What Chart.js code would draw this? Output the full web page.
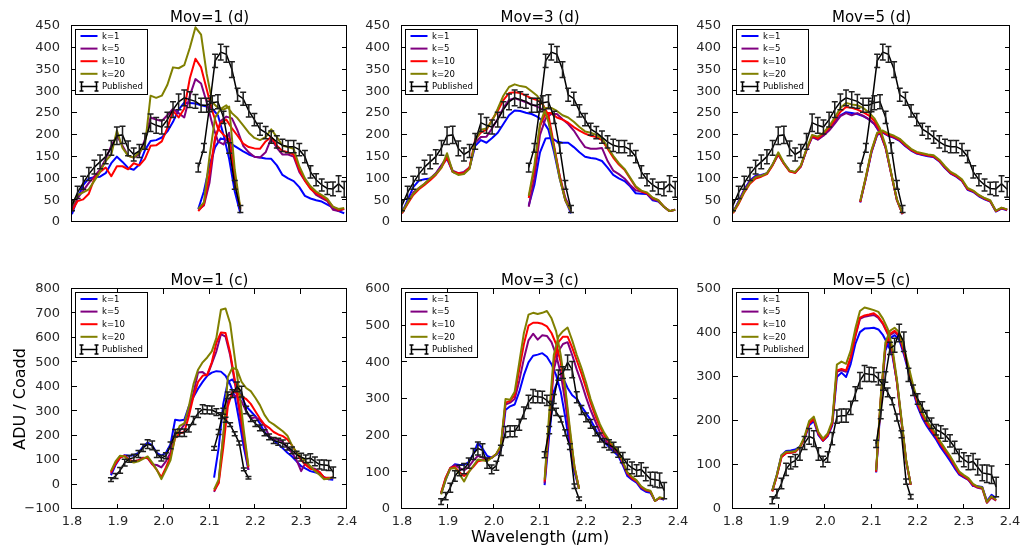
<!DOCTYPE html>
<html>
<head>
<meta charset="utf-8">
<script src="https://cdn.jsdelivr.net/npm/chart.js@4.4.1/dist/chart.umd.min.js"></script>
<style>
  html, body { margin: 0; padding: 0; background: #fff; }
  #wrap { position: relative; width: 1031px; height: 552px; overflow: hidden; background: #fff; }
  #wrap canvas { position: absolute; left: 0; top: 0; }
</style>
</head>
<body>
<div id="wrap"></div>
<script>
// Wavelength grids (µm) of the two spectral segments
const wlA = [1.885,1.895,1.905,1.915,1.925,1.935,1.945,1.955,1.965,1.975,1.985,1.995,2.005,2.015,2.025,2.035,2.045,2.055,2.065,2.075,2.085,2.095,2.105,2.115,2.125,2.135,2.145,2.155,2.165,2.175,2.185];
const wlB = [2.11,2.12,2.13,2.14,2.15,2.16,2.17,2.18,2.19,2.20,2.21,2.22,2.23,2.24,2.25,2.26,2.27,2.28,2.29,2.30,2.31,2.32,2.33,2.34,2.35,2.36,2.37];

const seriesLabels = ['k=1', 'k=5', 'k=10', 'k=20'];
const publishedLabel = 'Published';

// Published spectrum (d) with uncertainties
const pubD_A     = [38,68,90,110,126,138,150,170,198,200,169,155,163,185,228,222,218,235,258,276,285,281,277,268,268,274,276,240,170,85,30];
const pubD_A_err = [12,14,15,15,16,16,16,17,20,20,17,15,15,18,20,18,16,17,18,18,18,18,16,16,16,16,16,14,12,10,8];
const pubD_B     = [125,170,265,370,390,385,350,292,283,255,235,213,205,195,184,176,173,173,166,150,115,97,85,77,76,88,75];
const pubD_B_err = [10,10,12,15,18,18,18,15,15,14,14,14,14,14,14,14,14,14,14,14,14,14,14,14,16,18,18];

// Published spectrum (c) with uncertainties
const pubC_A     = [20,35,58,90,105,110,125,150,165,160,125,108,118,160,210,212,212,230,262,292,308,306,305,296,282,265,245,208,170,62,28];
const pubC_A_err = [8,10,12,14,14,14,14,15,18,18,14,12,12,14,15,15,15,15,16,18,18,16,16,14,12,10,8,8,8,6,5];
const pubC_B     = [148,215,300,365,372,400,380,305,270,250,232,212,195,180,175,168,155,140,122,112,105,108,95,82,80,78,50];
const pubC_B_err = [8,10,12,14,16,20,22,15,12,12,12,12,12,12,14,14,14,14,14,16,16,18,18,18,20,20,22];

// Mov=1 (d)
const d1_k1_A  = [18,55,85,100,103,104,112,135,150,138,124,120,132,165,186,188,194,208,230,258,274,273,272,268,265,260,245,200,145,70,20];
const d1_k1_B  = [30,70,130,172,192,188,178,170,162,155,150,148,146,145,130,108,100,94,80,60,54,50,47,40,33,25,20];
const d1_k5_A  = [30,55,72,90,105,120,145,175,198,175,152,148,155,190,240,235,232,245,260,250,240,290,328,318,275,225,185,178,205,100,28];
const d1_k5_B  = [28,38,90,190,232,242,238,210,175,160,150,148,160,192,170,155,155,150,115,95,78,62,55,48,28,25,30];
const d1_k10_A = [25,48,52,65,100,115,125,105,128,128,121,135,130,145,175,176,185,216,255,240,260,330,375,355,305,255,215,200,190,100,30];
const d1_k10_B = [25,40,110,195,228,235,215,198,180,172,169,168,185,195,175,163,160,155,120,95,76,66,59,50,35,28,30];
const d1_k20_A = [38,62,68,75,95,115,140,155,210,170,152,148,160,175,290,285,290,315,355,353,360,400,447,430,340,275,262,258,265,120,32];
const d1_k20_B = [30,45,150,240,260,268,250,238,222,205,193,188,195,213,195,175,172,168,128,100,82,70,62,53,35,30,32];

// Mov=3 (d)
const d3_k1_A  = [22,50,80,95,98,100,110,130,145,115,110,112,125,175,188,182,193,205,225,245,256,255,251,248,242,232,212,160,100,50,20];
const d3_k1_B  = [38,85,160,192,193,185,182,182,172,160,150,147,145,140,125,108,100,94,82,66,65,64,50,47,35,25,28];
const d3_k5_A  = [20,45,68,78,88,100,112,130,150,118,112,115,125,182,195,196,215,237,262,280,284,280,275,270,265,258,235,170,105,55,28];
const d3_k5_B  = [35,100,200,238,248,248,236,225,210,190,172,168,168,170,140,118,110,100,85,73,70,65,52,48,35,25,28];
const d3_k10_A = [20,42,62,75,85,96,108,125,148,115,112,112,125,190,205,212,235,255,280,296,298,296,290,284,280,270,245,175,105,50,25];
const d3_k10_B = [55,120,220,250,250,240,235,228,218,210,203,198,195,188,168,148,132,120,100,80,70,66,55,50,35,25,28];
const d3_k20_A = [22,45,65,78,88,100,110,125,158,115,108,110,122,185,212,215,232,260,290,310,316,312,310,300,290,270,230,170,100,50,25];
const d3_k20_B = [60,130,225,262,262,255,245,240,230,218,208,205,200,192,172,152,135,122,102,82,72,68,56,50,35,25,28];

// Mov=5 (d)
const d5_k1_A  = [22,48,75,95,106,108,112,132,155,135,118,114,128,165,196,190,200,212,228,245,252,250,248,243,236,225,205,170,110,50,18];
const d5_k1_B  = [45,100,160,200,205,198,193,186,174,164,157,154,151,149,139,124,111,104,94,74,69,59,52,47,24,31,27];
const d5_k5_A  = [22,46,73,93,104,107,111,131,155,134,117,113,127,165,195,189,198,210,226,243,250,245,250,244,236,225,205,170,110,50,18];
const d5_k5_B  = [46,101,161,201,206,198,194,187,175,165,158,155,152,150,140,125,112,105,95,75,70,60,53,48,25,32,28];
const d5_k10_A = [20,42,68,88,100,104,110,130,156,134,116,113,128,166,198,192,203,216,234,253,264,262,258,252,245,232,210,172,110,50,18];
const d5_k10_B = [46,102,163,203,208,200,196,189,177,166,159,156,153,151,141,126,113,106,96,76,71,61,54,48,25,32,28];
const d5_k20_A = [22,44,70,90,103,106,112,132,160,136,118,115,130,168,200,196,205,220,240,262,273,270,268,262,252,238,215,175,112,52,20];
const d5_k20_B = [48,104,165,205,210,203,198,191,179,168,161,158,155,153,143,128,115,108,98,78,72,62,55,50,26,33,29];

// Mov=1 (c)
const c1_k1_A  = [38,80,110,120,118,120,130,155,172,160,130,118,130,165,265,262,265,320,358,392,420,445,458,464,462,445,410,360,260,150,60];
const c1_k1_B  = [28,150,330,420,430,400,360,320,300,280,250,215,195,180,165,148,130,115,95,75,65,55,50,45,30,22,20];
const c1_k5_A  = [45,90,115,118,100,95,100,110,108,82,80,70,95,130,210,220,245,300,375,458,460,445,495,545,615,605,530,420,300,180,60];
const c1_k5_B  = [-30,10,200,340,365,360,340,300,270,275,265,240,200,185,185,175,150,130,100,55,90,68,65,50,28,22,30];
const c1_k10_A = [50,85,110,118,100,95,98,108,110,85,60,30,70,115,190,210,215,280,360,420,445,450,500,580,622,620,540,430,320,200,70];
const c1_k10_B = [-25,5,150,320,380,375,360,350,330,300,270,245,232,215,205,198,185,160,130,100,80,65,60,52,28,28,28];
const c1_k20_A = [55,95,118,115,95,90,95,105,115,90,60,22,60,100,195,240,250,320,410,470,500,520,545,600,715,720,660,520,380,220,75];
const c1_k20_B = [-20,20,200,440,478,470,420,395,382,355,325,285,258,246,232,218,200,160,132,112,95,75,55,40,22,25,30];

// Mov=3 (c)
const c3_k1_A  = [42,80,110,122,120,120,128,150,180,165,145,140,148,160,270,280,285,320,365,400,418,421,425,415,395,365,320,250,170,100,55];
const c3_k1_B  = [65,200,320,355,358,330,310,300,280,262,243,220,195,182,170,157,145,120,90,80,72,55,47,44,22,30,25];
const c3_k5_A  = [42,85,112,120,112,105,115,132,145,140,138,140,150,170,285,290,300,350,410,460,478,462,474,472,455,420,370,290,190,110,55];
const c3_k5_B  = [70,230,380,430,450,455,420,380,345,305,270,240,210,190,175,162,150,125,95,82,75,58,50,48,22,30,28];
const c3_k10_A = [45,85,112,115,100,90,102,115,130,133,135,140,150,170,290,295,310,380,450,500,508,508,505,498,480,450,400,320,210,115,55];
const c3_k10_B = [75,240,400,455,470,470,440,405,370,330,290,255,225,200,182,168,155,128,98,85,76,60,52,48,22,30,28];
const c3_k20_A = [40,80,110,112,95,75,100,118,135,133,130,140,150,175,300,298,320,400,480,530,535,532,535,540,520,485,420,330,220,115,55];
const c3_k20_B = [80,260,420,470,485,495,460,420,385,345,300,265,232,207,188,172,160,130,100,88,78,62,53,50,22,32,28];

// Mov=5 (c)
const c5_k1_A  = [42,78,122,132,133,135,142,160,190,200,168,155,165,190,300,310,300,330,375,402,410,411,412,408,395,375,350,290,200,110,55];
const c5_k1_B  = [83,240,360,388,395,385,352,312,268,232,207,188,173,158,140,125,110,93,78,72,66,52,52,50,18,32,25];
const c5_k5_A  = [40,75,118,127,128,130,140,162,194,203,170,155,167,194,312,315,312,342,392,432,437,439,441,434,420,398,358,288,198,108,55];
const c5_k5_B  = [84,248,368,395,402,392,357,317,272,237,212,192,177,162,145,129,115,97,80,73,66,53,48,46,14,26,19];
const c5_k10_A = [40,75,118,127,128,130,140,162,195,205,172,156,168,195,315,318,315,345,395,435,440,442,445,437,422,400,360,290,200,110,55];
const c5_k10_B = [85,250,370,398,405,395,360,320,275,240,215,195,180,165,148,132,118,100,82,75,68,55,50,48,15,28,20];
const c5_k20_A = [42,78,122,130,130,132,142,165,200,210,175,160,172,200,328,335,330,360,410,450,458,455,452,448,432,410,368,295,205,112,56];
const c5_k20_B = [88,255,378,405,412,402,366,326,282,246,220,200,185,170,152,136,121,103,85,77,70,57,51,49,16,29,21];

// Panel definitions
const panels = [
  { title: 'Mov=1 (d)', col: 0, row: 0, yRange: [0, 450, 50],
    series: [[d1_k1_A, d1_k1_B], [d1_k5_A, d1_k5_B], [d1_k10_A, d1_k10_B], [d1_k20_A, d1_k20_B]],
    pub: [pubD_A, pubD_B], pubErr: [pubD_A_err, pubD_B_err] },
  { title: 'Mov=3 (d)', col: 1, row: 0, yRange: [0, 450, 50],
    series: [[d3_k1_A, d3_k1_B], [d3_k5_A, d3_k5_B], [d3_k10_A, d3_k10_B], [d3_k20_A, d3_k20_B]],
    pub: [pubD_A, pubD_B], pubErr: [pubD_A_err, pubD_B_err] },
  { title: 'Mov=5 (d)', col: 2, row: 0, yRange: [0, 450, 50],
    series: [[d5_k1_A, d5_k1_B], [d5_k5_A, d5_k5_B], [d5_k10_A, d5_k10_B], [d5_k20_A, d5_k20_B]],
    pub: [pubD_A, pubD_B], pubErr: [pubD_A_err, pubD_B_err] },
  { title: 'Mov=1 (c)', col: 0, row: 1, yRange: [-100, 800, 100], yLabel: 'ADU / Coadd',
    series: [[c1_k1_A, c1_k1_B], [c1_k5_A, c1_k5_B], [c1_k10_A, c1_k10_B], [c1_k20_A, c1_k20_B]],
    pub: [pubC_A, pubC_B], pubErr: [pubC_A_err, pubC_B_err] },
  { title: 'Mov=3 (c)', col: 1, row: 1, yRange: [0, 600, 100], xLabel: true,
    series: [[c3_k1_A, c3_k1_B], [c3_k5_A, c3_k5_B], [c3_k10_A, c3_k10_B], [c3_k20_A, c3_k20_B]],
    pub: [pubC_A, pubC_B], pubErr: [pubC_A_err, pubC_B_err] },
  { title: 'Mov=5 (c)', col: 2, row: 1, yRange: [0, 500, 100],
    series: [[c5_k1_A, c5_k1_B], [c5_k5_A, c5_k5_B], [c5_k10_A, c5_k10_B], [c5_k20_A, c5_k20_B]],
    pub: [pubC_A, pubC_B], pubErr: [pubC_A_err, pubC_B_err] }
];

// Styling and geometry
const W = 1031, H = 552;
const colLeft = [72, 402, 733], colRight = [347, 678, 1010];
const rowTop = [26, 289], rowBottom = [246, 509];
const Y_AXIS_W = 50, X_AXIS_H = 24;
const lineColors = ['#0000ff', '#800080', '#ff0000', '#808000'];
const FONT = '"DejaVu Sans", "Liberation Sans", sans-serif';
const TEXT = '#262626';

Chart.defaults.font.family = FONT;

function joinSegments(segA, segB) {
  const pts = segA.map((v, i) => ({ x: wlA[i], y: v }));
  pts.push({ x: 2.19, y: null });
  segB.forEach((v, i) => pts.push({ x: wlB[i], y: v }));
  return pts;
}

const decorations = {
  id: 'decorations',
  afterDatasetsDraw(chart) {
    const ctx = chart.ctx;
    const { left, right, top, bottom } = chart.chartArea;
    const ys = chart.scales.y;
    chart.data.datasets.forEach((ds, di) => {
      if (!ds.errorBars) return;
      const meta = chart.getDatasetMeta(di);
      ctx.save();
      ctx.beginPath();
      ctx.rect(left, top, right - left, bottom - top);
      ctx.clip();
      ctx.strokeStyle = '#1e1e1e';
      ctx.lineWidth = 1.5;
      const cap = 3;
      ds.data.forEach((pt, i) => {
        const e = ds.errorBars[i];
        if (pt.y == null || e == null) return;
        const x = meta.data[i].x;
        const y1 = ys.getPixelForValue(pt.y + e);
        const y2 = ys.getPixelForValue(pt.y - e);
        ctx.beginPath();
        ctx.moveTo(x, y1); ctx.lineTo(x, y2);
        ctx.moveTo(x - cap, y1); ctx.lineTo(x + cap, y1);
        ctx.moveTo(x - cap, y2); ctx.lineTo(x + cap, y2);
        ctx.stroke();
      });
      ctx.restore();
    });
  },
  afterDraw(chart, args, opts) {
    const ctx = chart.ctx;
    const { left, right, top, bottom } = chart.chartArea;
    const xs = chart.scales.x, ys = chart.scales.y;
    ctx.save();

    // frame
    ctx.strokeStyle = '#000';
    ctx.lineWidth = 1;
    ctx.strokeRect(Math.round(left) - 0.5, Math.round(top) - 0.5, Math.round(right - left), Math.round(bottom - top));

    // inward tick marks
    const tl = 5;
    ctx.beginPath();
    ys.ticks.forEach(t => {
      const py = Math.round(ys.getPixelForValue(t.value)) - 0.5;
      ctx.moveTo(left, py); ctx.lineTo(left + tl, py);
      ctx.moveTo(right, py); ctx.lineTo(right - tl, py);
    });
    if (opts.xTicks) {
      xs.ticks.forEach(t => {
        const px = Math.round(xs.getPixelForValue(t.value)) - 0.5;
        ctx.moveTo(px, bottom); ctx.lineTo(px, bottom - tl);
        ctx.moveTo(px, top); ctx.lineTo(px, top + tl);
      });
    }
    ctx.stroke();

    // legend
    const lx = Math.round(left) + 3.5, ly = Math.round(top) + 3.5, lw = 72, lh = 65;
    ctx.fillStyle = '#fff';
    ctx.fillRect(lx, ly, lw, lh);
    ctx.strokeStyle = '#000';
    ctx.lineWidth = 1;
    ctx.strokeRect(lx, ly, lw, lh);
    ctx.font = '8.5px ' + FONT;
    ctx.textAlign = 'left';
    ctx.textBaseline = 'middle';
    chart.data.datasets.forEach((ds, i) => {
      const ry = ly + 6.5 + i * 12.6;
      const x0 = left + 8.5, x1 = left + 25.5;
      ctx.strokeStyle = ds.borderColor;
      ctx.lineWidth = ds.errorBars ? 1.5 : 2;
      ctx.beginPath();
      ctx.moveTo(x0, ry); ctx.lineTo(x1, ry);
      if (ds.errorBars) {
        [x0 + 1, x1 - 1].forEach(ex => {
          ctx.moveTo(ex, ry - 4.5); ctx.lineTo(ex, ry + 4.5);
          ctx.moveTo(ex - 2, ry - 4.5); ctx.lineTo(ex + 2, ry - 4.5);
          ctx.moveTo(ex - 2, ry + 4.5); ctx.lineTo(ex + 2, ry + 4.5);
        });
      }
      ctx.stroke();
      ctx.fillStyle = '#000';
      ctx.fillText(ds.label, left + 30, ry + 0.5);
    });

    // panel title
    ctx.fillStyle = '#000';
    ctx.font = '15px ' + FONT;
    ctx.textAlign = 'center';
    ctx.textBaseline = 'alphabetic';
    ctx.fillText(opts.title, (left + right) / 2, top - 4);

    // axis labels
    if (opts.yLabel) {
      ctx.save();
      ctx.translate(25, (top + bottom) / 2);
      ctx.rotate(-Math.PI / 2);
      ctx.font = '16px ' + FONT;
      ctx.textAlign = 'center';
      ctx.textBaseline = 'alphabetic';
      ctx.fillText(opts.yLabel, 0, 0);
      ctx.restore();
    }
    if (opts.xLabel) {
      const parts = [
        { t: 'Wavelength (', f: '16px ' + FONT },
        { t: 'μ', f: 'italic 16px ' + FONT },
        { t: 'm)', f: '16px ' + FONT }
      ];
      let total = 0;
      parts.forEach(p => { ctx.font = p.f; p.w = ctx.measureText(p.t).width; total += p.w; });
      let cx = (left + right) / 2 - total / 2;
      ctx.textAlign = 'left';
      ctx.textBaseline = 'alphabetic';
      parts.forEach(p => { ctx.font = p.f; ctx.fillText(p.t, cx, 542); cx += p.w; });
    }
    ctx.restore();
  }
};

const wrap = document.getElementById('wrap');

panels.forEach(p => {
  const canvas = document.createElement('canvas');
  canvas.width = W; canvas.height = H;
  canvas.style.width = W + 'px'; canvas.style.height = H + 'px';
  wrap.appendChild(canvas);

  const L = colLeft[p.col], R = colRight[p.col], T = rowTop[p.row], B = rowBottom[p.row];
  const bottomRow = p.row === 1;

  const datasets = p.series.map((s, i) => ({
    label: seriesLabels[i],
    data: joinSegments(s[0], s[1]),
    borderColor: lineColors[i],
    backgroundColor: lineColors[i],
    borderWidth: 2,
    pointRadius: 0,
    tension: 0,
    spanGaps: false,
    borderJoinStyle: 'round',
    order: 4 - i
  }));
  datasets.push({
    label: publishedLabel,
    data: joinSegments(p.pub[0], p.pub[1]),
    errorBars: [...p.pubErr[0], null, ...p.pubErr[1]],
    borderColor: '#000',
    backgroundColor: '#000',
    borderWidth: 1.5,
    pointRadius: 0,
    tension: 0,
    spanGaps: false,
    order: 0
  });

  new Chart(canvas, {
    type: 'line',
    data: { datasets },
    options: {
      responsive: false,
      animation: false,
      devicePixelRatio: 1,
      events: [],
      layout: {
        autoPadding: false,
        padding: { left: L - Y_AXIS_W, right: W - R, top: T, bottom: bottomRow ? H - B - X_AXIS_H : H - B }
      },
      scales: {
        x: {
          type: 'linear',
          display: bottomRow,
          min: bottomRow ? 1.8 : 1.885,
          max: bottomRow ? 2.4 : 2.375,
          grid: { display: false },
          border: { display: false },
          ticks: {
            stepSize: 0.1, autoSkip: false, padding: -3, color: TEXT,
            font: { size: 13 }, maxRotation: 0,
            callback: v => v.toFixed(1)
          },
          afterFit: s => { s.height = X_AXIS_H; }
        },
        y: {
          type: 'linear',
          min: p.yRange[0], max: p.yRange[1],
          grid: { display: false },
          border: { display: false },
          ticks: {
            stepSize: p.yRange[2], autoSkip: false, padding: 4, color: TEXT,
            font: { size: 13 },
            callback: v => (v < 0 ? '\u2212' + Math.abs(v) : String(v))
          },
          afterFit: s => { s.width = Y_AXIS_W; }
        }
      },
      plugins: {
        legend: { display: false },
        tooltip: { enabled: false },
        title: { display: false },
        decorations: { title: p.title, yLabel: p.yLabel, xLabel: p.xLabel, xTicks: bottomRow }
      }
    },
    plugins: [decorations]
  });
});
</script>
</body>
</html>
